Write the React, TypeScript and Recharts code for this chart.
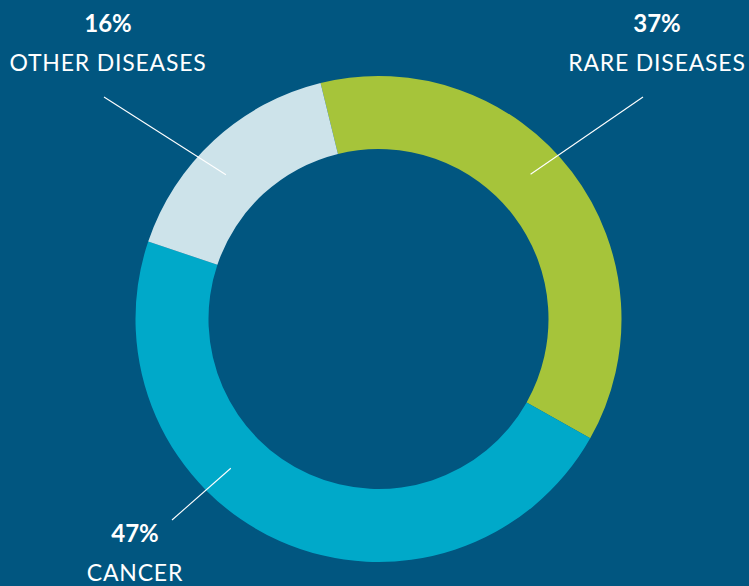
import { PieChart, Pie, Cell } from "recharts";

const categories = ["RARE DISEASES", "CANCER", "OTHER DISEASES"];
const shares = [37, 47, 16];
const colors = ["#a6c43a", "#00a9c9", "#cde3ea"];

const data = categories.map((name, i) => ({ name, value: shares[i] }));

// label placement relative to the pie centre (text centre x, percent baseline y, leader line start, leader angle)
const labelLayout = [
  { tx: 278.5, ty: -287, lx: 264.5, ly: -222, angle: 43.6 },
  { tx: -243.5, ty: 223, lx: -206.5, ly: 201, angle: 225.3 },
  { tx: -270.5, ty: -287, lx: -274.5, ly: -222, angle: 136.6 },
];

const renderLabel = (props: any) => {
  const { cx, cy, index, value, name } = props;
  const l = labelLayout[index];
  const rad = (l.angle * Math.PI) / 180;
  const r = 210;
  const ex = cx + r * Math.cos(rad);
  const ey = cy - r * Math.sin(rad);
  return (
    <g key={`lbl-${index}`}>
      <line x1={cx + l.lx} y1={cy + l.ly} x2={ex} y2={ey} stroke="#ffffff" strokeWidth={1.1} />
      <text
        x={cx + l.tx}
        y={cy + l.ty}
        textAnchor="middle"
        fill="#ffffff"
        fontFamily="Lato, sans-serif"
        fontWeight={700}
        fontSize={24}
      >
        {value}%
      </text>
      <text
        x={cx + l.tx}
        y={cy + l.ty + 39}
        textAnchor="middle"
        fill="#ffffff"
        fontFamily="Lato, sans-serif"
        fontSize={23}
        letterSpacing={0.8}
      >
        {name}
      </text>
    </g>
  );
};

export default function App() {
  return (
    <div
      style={{
        position: "fixed",
        left: 0,
        top: 0,
        width: 749,
        height: 586,
        background: "#015680",
        overflow: "hidden",
      }}
    >
      <PieChart width={749} height={586} margin={{ top: 0, right: 0, bottom: 0, left: 0 }}>
        <Pie
          data={data}
          dataKey="value"
          nameKey="name"
          cx={378.5}
          cy={319}
          outerRadius={243}
          innerRadius={170}
          startAngle={103.8}
          endAngle={-256.2}
          stroke="none"
          label={renderLabel}
          labelLine={false}
          isAnimationActive={false}
        >
          {data.map((d, i) => (
            <Cell key={d.name} fill={colors[i]} />
          ))}
        </Pie>
      </PieChart>
    </div>
  );
}
